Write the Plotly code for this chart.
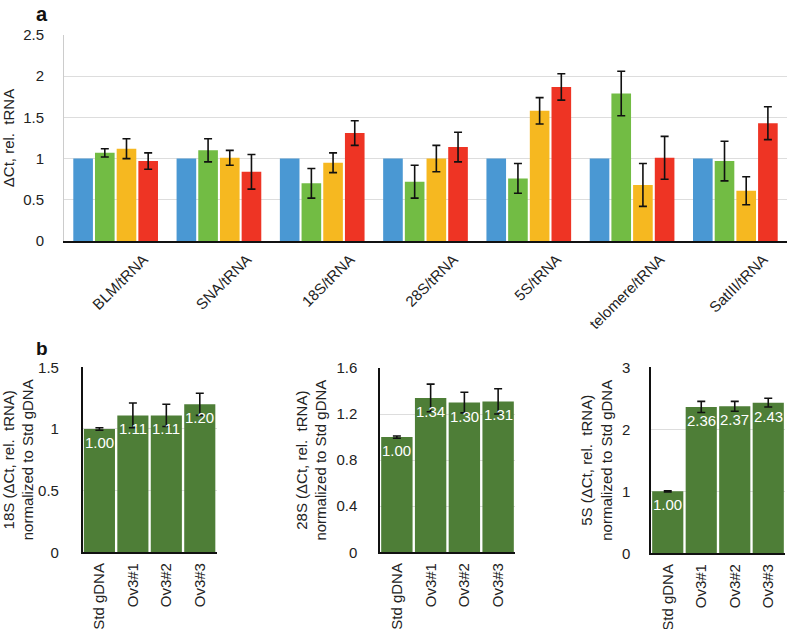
import plotly.graph_objects as go

# ---- data: panel a ----
categories_a = ["BLM/tRNA", "SNA/tRNA", "18S/tRNA", "28S/tRNA", "5S/tRNA", "telomere/tRNA", "SatIII/tRNA"]
blue_vals = [1.0, 1.0, 1.0, 1.0, 1.0, 1.0, 1.0]
green_vals = [1.07, 1.10, 0.70, 0.72, 0.76, 1.79, 0.97]
green_err = [0.05, 0.14, 0.18, 0.20, 0.18, 0.27, 0.24]
yellow_vals = [1.12, 1.01, 0.95, 1.00, 1.58, 0.68, 0.61]
yellow_err = [0.12, 0.09, 0.12, 0.16, 0.16, 0.26, 0.17]
red_vals = [0.97, 0.84, 1.31, 1.14, 1.87, 1.01, 1.43]
red_err = [0.10, 0.21, 0.15, 0.18, 0.16, 0.26, 0.20]

# ---- data: panel b ----
categories_b = ["Std gDNA", "Ov3#1", "Ov3#2", "Ov3#3"]
vals_18s = [1.00, 1.11, 1.11, 1.20]
err_18s = [0.01, 0.10, 0.09, 0.09]
vals_28s = [1.00, 1.34, 1.30, 1.31]
err_28s = [0.01, 0.12, 0.09, 0.11]
vals_5s = [1.00, 2.36, 2.37, 2.43]
err_5s = [0.01, 0.09, 0.08, 0.07]
ytitles_b = ["18S (ΔCt, rel.  tRNA)<br>normalized to Std gDNA",
             "28S (ΔCt, rel.  tRNA)<br>normalized to Std gDNA",
             "5S (ΔCt, rel.  tRNA)<br>normalized to Std gDNA"]

FONT = "Liberation Sans, Arial, sans-serif"
W, H = 800, 629
FS = 15

def px_x(a, b):
    return [a / W, b / W]

def px_y(bottom, top):
    return [1 - bottom / H, 1 - top / H]

fig = go.Figure()

colors_a = ["#4A98D3", "#72BC44", "#F6B820", "#EE3424"]
series = [(blue_vals, None), (green_vals, green_err), (yellow_vals, yellow_err), (red_vals, red_err)]
for i, ((vals, err), col) in enumerate(zip(series, colors_a)):
    kw = {}
    if err is not None:
        kw["error_y"] = dict(type="data", array=err, visible=True, color="#111111", thickness=1.6, width=4)
    fig.add_trace(go.Bar(x=categories_a, y=vals, marker=dict(color=col, line=dict(width=0)),
                         width=0.19, offset=-0.41 + i * 0.21, xaxis="x", yaxis="y",
                         showlegend=False, **kw))

green_dark = "#4E7E37"
panels = [(vals_18s, err_18s, "x2", "y2"), (vals_28s, err_28s, "x3", "y3"), (vals_5s, err_5s, "x4", "y4")]
for vals, err, xa, ya in panels:
    fig.add_trace(go.Bar(x=categories_b, y=vals, width=0.93, marker=dict(color=green_dark, line=dict(width=0)),
                         error_y=dict(type="data", array=err, visible=True, color="#111111", thickness=1.6, width=4),
                         xaxis=xa, yaxis=ya, showlegend=False))
    for c, v in zip(categories_b, vals):
        fig.add_annotation(x=c, y=v, xref=xa, yref=ya, text=f"{v:.2f}", showarrow=False,
                           yanchor="top", yshift=-3, font=dict(color="white", size=FS, family=FONT))

tickfont = dict(size=FS, family=FONT, color="#222222")
grid = "#DDDDDD"

layout = dict(
    width=W, height=H, margin=dict(l=0, r=0, t=0, b=0, autoexpand=False),
    paper_bgcolor="white", plot_bgcolor="white",
    barmode="overlay", font=dict(family=FONT, color="#222222"),
    xaxis=dict(domain=px_x(64, 787), anchor="y", tickangle=-45, tickfont=tickfont, automargin=False,
               showline=True, linecolor="#111111", linewidth=1.5, ticks="",
               ticklabelshift=28, ticklabelstandoff=2),
    yaxis=dict(domain=px_y(241, 35), anchor="x", range=[0, 2.5], dtick=0.5, tickfont=tickfont,
               automargin=False,
               showgrid=True, gridcolor=grid, gridwidth=1, showline=True, linecolor="#CCCCCC",
               linewidth=1, zeroline=False, ticks="", ticklabelstandoff=16,
               tickformat="~g",
               title=dict(text="ΔCt, rel.  tRNA", font=dict(size=FS, family=FONT), standoff=10)),
)

b_axes = [
    ("xaxis2", "yaxis2", "x2", "y2", px_x(82.7, 216.5), px_y(552.3, 367.3), [0, 1.5], 0.5, 19),
    ("xaxis3", "yaxis3", "x3", "y3", px_x(380, 515), px_y(552.3, 368), [0, 1.6], 0.4, 18),
    ("xaxis4", "yaxis4", "x4", "y4", px_x(651, 785), px_y(553.3, 367.3), [0, 3], 1, 16),
]
for (xk, yk, xn, yn, xd, yd, rng, dt, so), yt in zip(b_axes, ytitles_b):
    layout[xk] = dict(domain=xd, anchor=yn, tickangle=-90, tickfont=tickfont, showline=True, automargin=False,
                      linecolor="#111111", linewidth=1.5, ticks="", ticklabelstandoff=3)
    layout[yk] = dict(domain=yd, anchor=xn, range=rng, dtick=dt, tickfont=tickfont, showgrid=True,
                      automargin=False,
                      gridcolor=grid, gridwidth=1, showline=True, linecolor="#111111", linewidth=1.5,
                      zeroline=False, ticks="", ticklabelstandoff=so, tickformat="~g",
                      title=dict(text=yt, font=dict(size=FS, family=FONT), standoff=6))

fig.update_layout(**layout)

fig.add_annotation(x=42 / W, y=1 - 14 / H, xref="paper", yref="paper", text="<b>a</b>", showarrow=False,
                   xanchor="center", yanchor="middle",
                   font=dict(size=20, family=FONT, color="#111111"))
fig.add_annotation(x=42 / W, y=1 - 349 / H, xref="paper", yref="paper", text="<b>b</b>", showarrow=False,
                   xanchor="center", yanchor="middle",
                   font=dict(size=19, family=FONT, color="#111111"))

fig.write_html("out.html", config={"displayModeBar": False},
               post_script="document.body.style.margin='0';")
